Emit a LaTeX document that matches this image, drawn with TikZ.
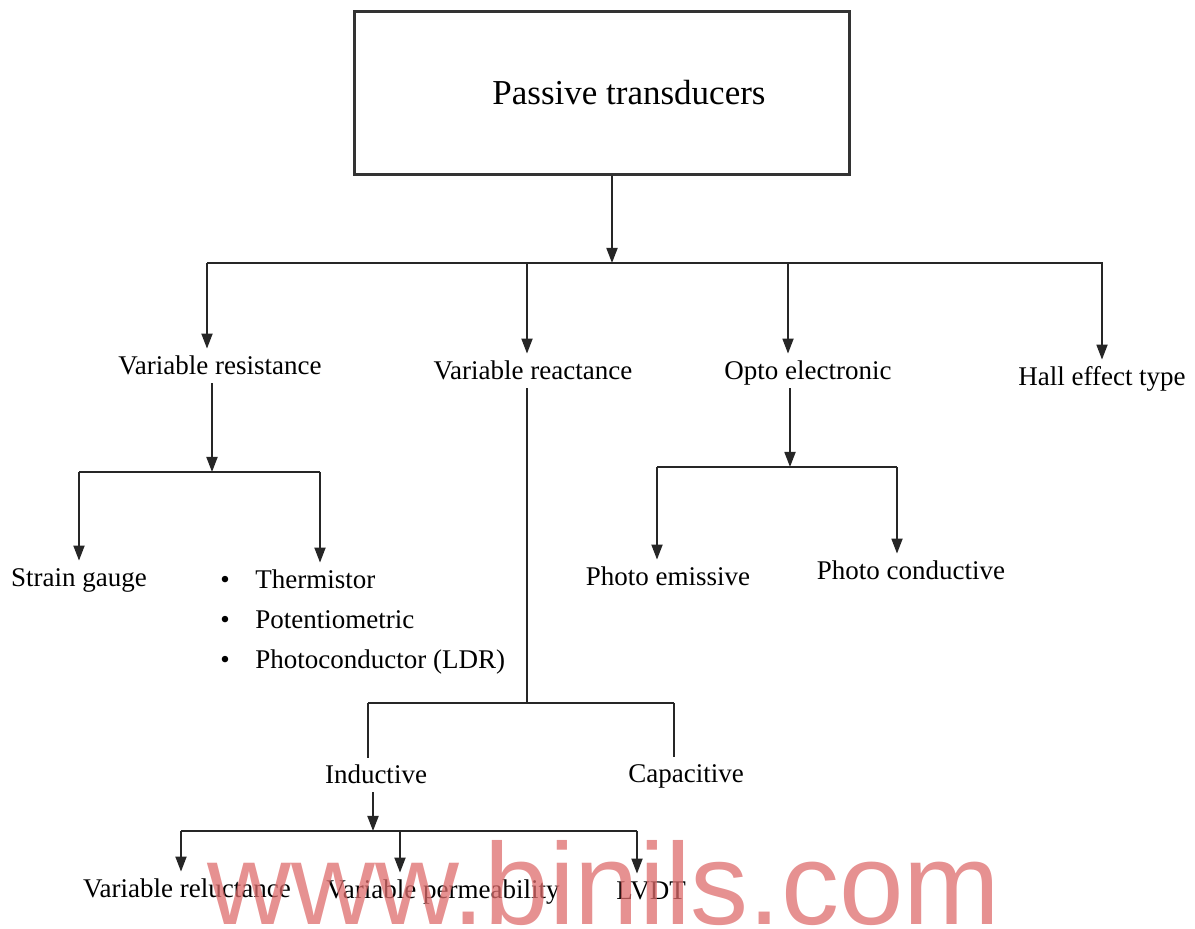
\documentclass[tikz,border=0pt]{standalone}
\usepackage{fontspec}
\setmainfont{Liberation Serif}
\newfontfamily\wmfont{Liberation Sans}
\usetikzlibrary{arrows.meta}
\definecolor{wmpink}{RGB}{222,108,108}

\begin{document}
\begin{tikzpicture}[x=0.5pt,y=-0.5pt,every node/.style={font=\fontsize{13.5}{20}\selectfont, inner sep=4pt, text height=0.9em, text depth=0em},line/.style={line width=0.9pt, black!85},arr/.style={line, -{Triangle[width=5.5pt,length=7.5pt]}},titlebox/.style={draw, line width=1.3pt, black!80, minimum width=247.5pt, minimum height=81.5pt},wmark/.style={font=\wmfont\fontsize{58}{58}\selectfont, text=wmpink, text opacity=0.75, inner sep=0pt, text height=, text depth=}]
\useasboundingbox (0,0) rectangle (1195,929);
\node[titlebox] (root) at (602,93) {};
\node[font=\fontsize{17.5}{21}\selectfont] (title) at (629,96) {Passive transducers};
% first level
\node (vres) at (220,366) {Variable resistance};
\node (vrea) at (533,371) {Variable reactance};
\node (opto) at (808,371) {Opto electronic};
\node (hall) at (1102,377) {Hall effect type};
\coordinate (top) at (612,263);
\draw[arr] (root.south -| top) -- (top);
\draw[line] (207,263) -- (1103,263);
\foreach \x/\n in {207/vres,527/vrea,788/opto,1102/hall}
  \draw[arr] (\x,263) -- (\x,263 |- \n.north);
% variable resistance
\node (strain) at (79,578) {Strain gauge};
\node[anchor=west] (thermo) at (212,580) {\makebox[17.5pt][l]{\textbullet}Thermistor};
\node[anchor=west] (poten) at (212,620) {\makebox[17.5pt][l]{\textbullet}Potentiometric};
\node[anchor=west] (ldr) at (212,660) {\makebox[17.5pt][l]{\textbullet}Photoconductor (LDR)};
\draw[arr] (212,0 |- vres.south) -- (212,472);
\draw[line] (79,472) -- (320,472);
\draw[arr] (79,472) -- (strain.north);
\draw[arr] (320,472) -- (320,472 |- thermo.north);
% opto electronic
\node (pemis) at (668,577) {Photo emissive};
\node (pcond) at (911,571) {Photo conductive};
\draw[arr] (790,0 |- opto.south) -- (790,467);
\draw[line] (657,467) -- (897,467);
\draw[arr] (657,467) -- (657,467 |- pemis.north);
\draw[arr] (897,467) -- (897,467 |- pcond.north);
% variable reactance
\node (induct) at (376,775) {Inductive};
\node (capac) at (686,774) {Capacitive};
\draw[line] (527,0 |- vrea.south) -- (527,703);
\draw[line] (368,703) -- (674,703);
\draw[line] (368,703) -- (368,703 |- induct.north);
\draw[line] (674,703) -- (674,703 |- capac.north);
% inductive
\node (vrel) at (187,889) {Variable reluctance};
\node (vperm) at (443,890) {Variable permeability};
\node (lvdt) at (651,891) {LVDT};
\draw[arr] (373,0 |- induct.south) -- (373,831);
\draw[line] (181,831) -- (637,831);
\foreach \x/\n in {181/vrel,400/vperm,637/lvdt}
  \draw[arr] (\x,831) -- (\x,831 |- \n.north);
% watermark
\node[wmark, anchor=base] (wm) at (604,925) {www.binils.com};
\end{tikzpicture}
\end{document}
